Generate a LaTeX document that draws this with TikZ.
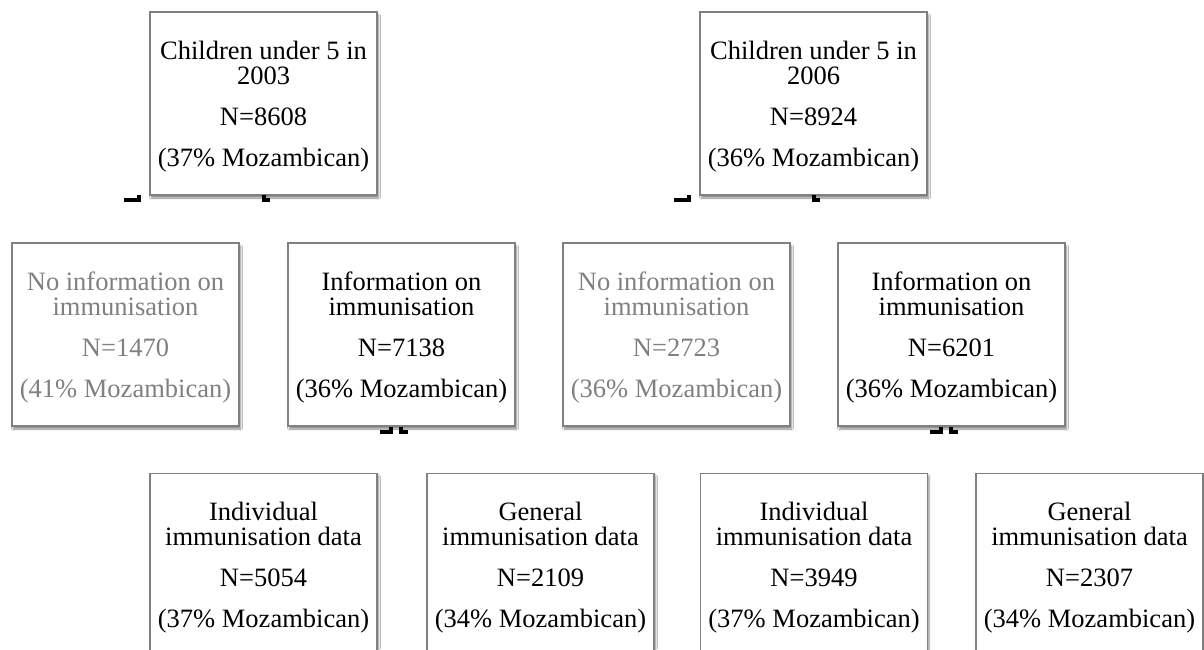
\documentclass[tikz,border=0pt]{standalone}
\usepackage{fontspec}
\setmainfont{Liberation Serif}
\usetikzlibrary{shadows.blur,calc}
\definecolor{boxborder}{RGB}{128,128,128}
\definecolor{greytext}{RGB}{128,128,128}
\begin{document}
\begin{tikzpicture}[x=1pt,y=-1pt,
  flowbox/.style={draw=boxborder, line width=1.1pt, fill=white,
    minimum width=227pt, minimum height=183pt, align=center, inner sep=0pt,
    text depth=0pt,
    font=\fontsize{26.5}{25}\selectfont,
    blur shadow={shadow xshift=1.5pt, shadow yshift=-3pt, shadow blur steps=6, shadow opacity=45}},
  faded/.style={text=greytext},
  stub/.style={draw=black, line width=4pt}]
\fill[white] (0,0) rectangle (1204,649);
\useasboundingbox (0,0) rectangle (1204,649);
\clip (0,0) rectangle (1204,649);
% top row
\node[flowbox] (t1) at (263.5,103.5) {Children under 5 in\\2003\\[16pt]N=8608\\[16pt](37\% Mozambican)};
\node[flowbox] (t2) at (813.5,103.5) {Children under 5 in\\2006\\[16pt]N=8924\\[16pt](36\% Mozambican)};
% middle row
\node[flowbox,faded] (m1) at (125.5,334.5) {No information on\\immunisation\\[16pt]N=1470\\[16pt](41\% Mozambican)};
\node[flowbox] (m2) at (401.5,334.5) {Information on\\immunisation\\[16pt]N=7138\\[16pt](36\% Mozambican)};
\node[flowbox,faded] (m3) at (676.5,334.5) {No information on\\immunisation\\[16pt]N=2723\\[16pt](36\% Mozambican)};
\node[flowbox] (m4) at (951.5,334.5) {Information on\\immunisation\\[16pt]N=6201\\[16pt](36\% Mozambican)};
% bottom row
\node[flowbox] (b1) at (263.5,565) {Individual\\immunisation data\\[16pt]N=5054\\[16pt](37\% Mozambican)};
\node[flowbox] (b2) at (540.5,565) {General\\immunisation data\\[16pt]N=2109\\[16pt](34\% Mozambican)};
\node[flowbox] (b3) at (814,565) {Individual\\immunisation data\\[16pt]N=3949\\[16pt](37\% Mozambican)};
\node[flowbox] (b4) at (1089.5,565) {General\\immunisation data\\[16pt]N=2307\\[16pt](34\% Mozambican)};
% connector remnants
\foreach \n in {t1,t2}{
  \draw[stub] ($(\n.south west)+(-25,4.5)$) -- ($(\n.south west)+(-10,4.5)$) -- ($(\n.south west)+(-10,-1)$);
  \draw[stub] ($(\n.south)+(0.5,-1)$) -- ($(\n.south)+(0.5,4.5)$) -- ($(\n.south)+(6.5,4.5)$);
}
\foreach \n in {m2,m4}{
  \draw[stub] ($(\n.south)+(-21.5,5)$) -- ($(\n.south)+(-10.5,5)$) -- ($(\n.south)+(-10.5,0)$);
  \draw[stub] ($(\n.south)+(-0.5,0)$) -- ($(\n.south)+(-0.5,5)$) -- ($(\n.south)+(6.5,5)$);
}
\end{tikzpicture}
\end{document}
